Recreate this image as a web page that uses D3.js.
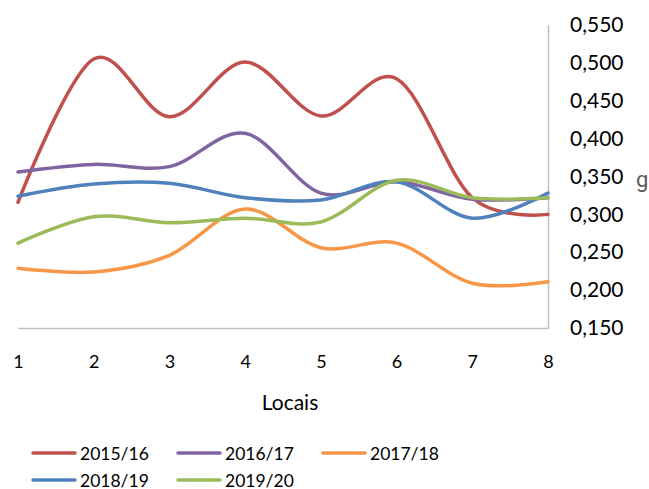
<!DOCTYPE html>
<html>
<head>
<meta charset="utf-8">
<script src="https://cdn.jsdelivr.net/npm/d3@7/dist/d3.min.js"></script>
<style>
  body { margin: 0; background: #fff; }
  svg { display: block; font-family: Lato, "Open Sans", sans-serif; }
</style>
</head>
<body>
<svg id="chart" width="649" height="489"></svg>
<script>
const locais = [1, 2, 3, 4, 5, 6, 7, 8];
const seriesNames = ["2015/16", "2016/17", "2017/18", "2018/19", "2019/20"];
const v2015 = [0.316, 0.505, 0.429, 0.501, 0.430, 0.479, 0.322, 0.300];
const v2016 = [0.356, 0.366, 0.363, 0.407, 0.328, 0.343, 0.320, 0.322];
const v2017 = [0.229, 0.224, 0.246, 0.307, 0.256, 0.262, 0.209, 0.211];
const v2018 = [0.324, 0.340, 0.341, 0.322, 0.319, 0.343, 0.295, 0.328];
const v2019 = [0.262, 0.297, 0.289, 0.295, 0.290, 0.345, 0.322, 0.322];
const colors = ["#C0504D", "#8064A2", "#F79646", "#4F81BD", "#9BBB59"];
const yTicks = [0.15, 0.20, 0.25, 0.30, 0.35, 0.40, 0.45, 0.50, 0.55];
const xTitle = "Locais";
const yTitle = "g";

const allValues = [v2015, v2016, v2017, v2018, v2019];
const svg = d3.select("#chart");

const x = d3.scaleLinear().domain([1, 8]).range([18, 548]);
const y = d3.scaleLinear().domain([0.15, 0.55]).range([328, 25]);

// axes
const xAxis = d3.axisBottom(x).tickValues(locais).tickSize(0).tickPadding(27).tickFormat(d3.format("d"));
const gx = svg.append("g").attr("transform", `translate(0,${y(0.15)})`).call(xAxis);
gx.select(".domain").attr("stroke", "#BFBFBF").attr("stroke-width", 1.5);
gx.selectAll("text").attr("font-size", 18).attr("fill", "#000").attr("font-family", "Lato, sans-serif");

const fmt = d => d3.format(".3f")(d).replace(".", ",");
const yAxis = d3.axisRight(y).tickValues(yTicks).tickSize(0).tickPadding(22).tickFormat(fmt);
const gy = svg.append("g").attr("transform", `translate(${x(8)},0)`).call(yAxis);
gy.select(".domain").attr("stroke", "#BFBFBF").attr("stroke-width", 1.5);
gy.selectAll("text").attr("font-size", 21).attr("fill", "#000").attr("font-family", "Lato, sans-serif");

// lines
const line = d3.line()
  .x((d, i) => x(locais[i]))
  .y(d => y(d))
  .curve(d3.curveCatmullRom.alpha(0));

allValues.forEach((vals, k) => {
  svg.append("path")
    .datum(vals)
    .attr("d", line)
    .attr("fill", "none")
    .attr("stroke", colors[k])
    .attr("stroke-width", 3.5)
    .attr("stroke-linecap", "round")
    .attr("stroke-linejoin", "round");
});

// axis titles
svg.append("text").attr("x", 290).attr("y", 410).attr("text-anchor", "middle")
  .attr("font-size", 21).attr("fill", "#000").text(xTitle);
svg.append("text").attr("x", 636).attr("y", 187)
  .attr("font-size", 22).attr("font-family", "Roboto, sans-serif")
  .attr("fill", "#595959").text(yTitle);

// legend
const legendPos = [[33, 453], [178, 453], [323, 453], [33, 480], [178, 480]];
seriesNames.forEach((name, k) => {
  const [lx, ly] = legendPos[k];
  svg.append("line").attr("x1", lx).attr("x2", lx + 42).attr("y1", ly).attr("y2", ly)
    .attr("stroke", colors[k]).attr("stroke-width", 3.5).attr("stroke-linecap", "round");
  svg.append("text").attr("x", lx + 47).attr("y", ly + 6.5)
    .attr("font-size", 17.5).attr("fill", "#000").text(name);
});
</script>
</body>
</html>
